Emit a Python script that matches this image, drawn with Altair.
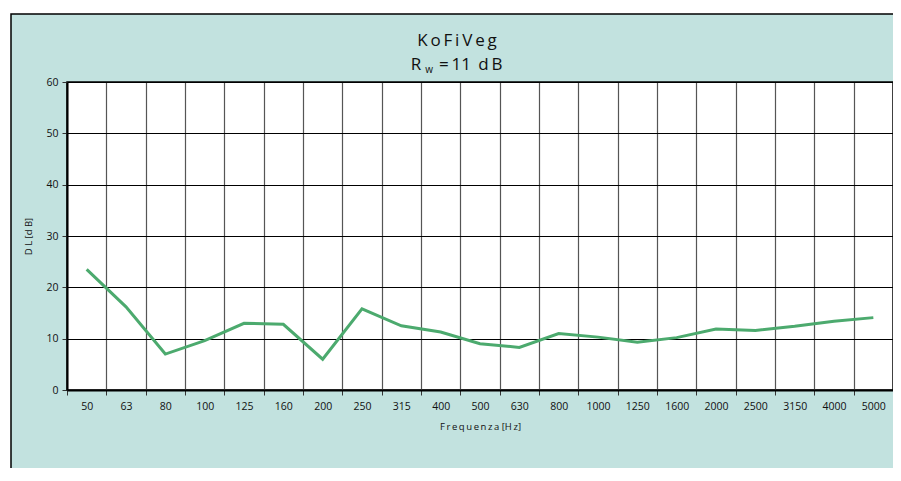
import altair as alt
import pandas as pd

freqs = ["50", "63", "80", "100", "125", "160", "200", "250", "315", "400", "500",
         "630", "800", "1000", "1250", "1600", "2000", "2500", "3150", "4000", "5000"]
dl_values = [23.5, 16.2, 7.0, 9.6, 13.0, 12.8, 6.0, 15.8, 12.5, 11.3, 9.0,
             8.3, 11.0, 10.3, 9.3, 10.2, 11.9, 11.6, 12.4, 13.4, 14.1]
y_ticks = [0, 10, 20, 30, 40, 50, 60]
title_main = "K\u2009o\u2009F\u2009i\u2009V\u2009e\u2009g"
sub_r = "R"
sub_w = "w"
sub_rest = "=\u200911\u2009 d\u2009B"
x_title = "F\u2009r\u2009e\u2009q\u2009u\u2009e\u2009n\u2009z\u2009a  [H\u2009z]"
y_title = "D L  [d B]"

FONT = "Open Sans"
TEAL = "#c2e2df"
GREEN = "#4caa6e"
TXT = "#111111"
W, H = 826, 308

df = pd.DataFrame({"freq": freqs, "dl": dl_values})
one = pd.DataFrame({"a": [0]})

x_enc = alt.X(
    "freq:O", sort=freqs,
    scale=alt.Scale(type="band", paddingInner=0, paddingOuter=0),
    axis=alt.Axis(
        title=x_title, labelAngle=0, tickBand="extent", grid=True,
        gridColor="#555555", gridWidth=1.2, tickColor="#333333", tickSize=5,
        domainColor="#000000", domainWidth=2, labelFont=FONT, labelFontSize=10.5,
        labelColor=TXT, labelPadding=6, titleFont=FONT, titleFontSize=9.5,
        titleFontWeight="normal", titleColor=TXT, titlePadding=10,
    ),
)
y_enc = alt.Y(
    "dl:Q",
    scale=alt.Scale(domain=[0, 60], nice=False, zero=True),
    axis=alt.Axis(
        title=y_title, values=y_ticks, grid=True, gridColor="#000000", gridWidth=1,
        tickColor="#333333", tickSize=5, domainColor="#000000", domainWidth=2,
        labelFont=FONT, labelFontSize=10.5, labelColor=TXT, labelPadding=4,
        titleFont=FONT, titleFontSize=9.5, titleFontWeight="normal",
        titleColor=TXT, titlePadding=12,
    ),
)

line = alt.Chart(df).mark_line(color=GREEN, strokeWidth=3).encode(x=x_enc, y=y_enc)

cover = alt.Chart(one).mark_rect(fillOpacity=0, stroke="white", strokeWidth=12).encode(
    x=alt.value(-62), x2=alt.value(W + 80), y=alt.value(-74), y2=alt.value(H + 100))
border = alt.Chart(one).mark_rect(fillOpacity=0, stroke="#000000", strokeWidth=1.5).encode(
    x=alt.value(-56), x2=alt.value(W + 60), y=alt.value(-68), y2=alt.value(H + 80))

t1 = alt.Chart(pd.DataFrame({"t": [title_main]})).mark_text(
    font=FONT, fontSize=17, color=TXT, align="center", baseline="middle").encode(
    x=alt.value(390), y=alt.value(-41), text="t:N")
t2 = alt.Chart(pd.DataFrame({"t": [sub_r]})).mark_text(
    font=FONT, fontSize=17, color=TXT, align="center", baseline="middle").encode(
    x=alt.value(349), y=alt.value(-17), text="t:N")
t3 = alt.Chart(pd.DataFrame({"t": [sub_w]})).mark_text(
    font=FONT, fontSize=10, color=TXT, align="center", baseline="middle").encode(
    x=alt.value(362), y=alt.value(-12), text="t:N")
t4 = alt.Chart(pd.DataFrame({"t": [sub_rest]})).mark_text(
    font=FONT, fontSize=17, color=TXT, align="left", baseline="middle").encode(
    x=alt.value(372), y=alt.value(-17), text="t:N")

chart = alt.layer(line, cover, border, t1, t2, t3, t4).properties(
    width=W, height=H,
    background=TEAL,
    padding={"left": 59, "top": 74, "right": 0, "bottom": 78},
    autosize=alt.AutoSizeParams(type="none"),
).configure_view(fill="white", stroke="#000000", strokeWidth=1.5)

chart.save("out.html", embed_options={"renderer": "svg", "actions": False})
